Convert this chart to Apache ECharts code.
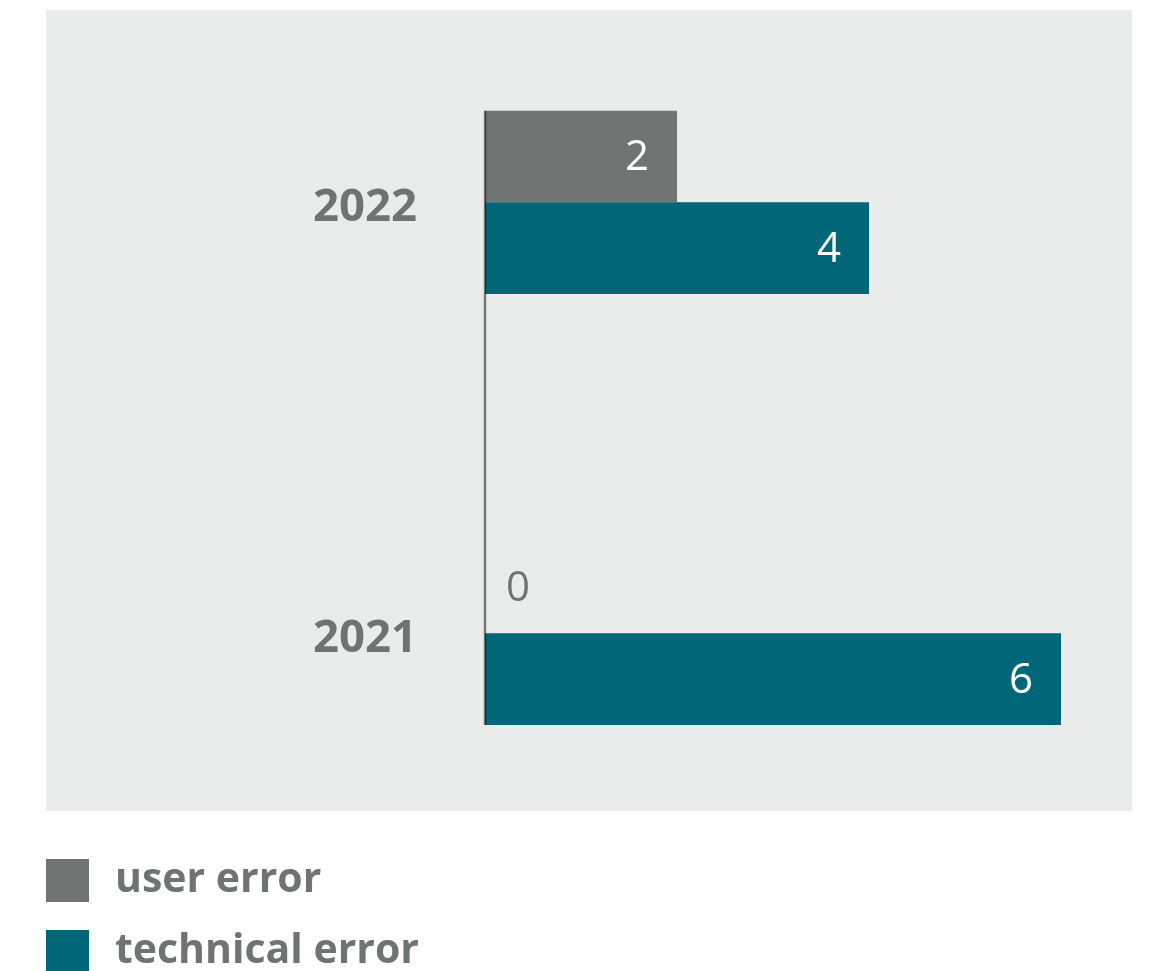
<!DOCTYPE html>
<html>
<head>
<meta charset="utf-8">
<script src="https://cdn.jsdelivr.net/npm/echarts@6/dist/echarts.min.js"></script>
<style>
html,body{margin:0;padding:0;background:#fff;}
#c{width:1153px;height:971px;}
</style>
</head>
<body>
<div id="c"></div>
<script>
var categories = ['2021', '2022'];
var seriesNames = ['user error', 'technical error'];
var userError = [0, 2];
var technicalError = [6, 4];

var GREY = '#707473';
var TEAL = '#006678';
var TEXT = '#6f7473';
var BAR_W = 91.6;
var FONT = '"Open Sans", "Noto Sans", sans-serif';

var chart = echarts.init(document.getElementById('c'), null, {renderer: 'canvas'});

function labelFor(color) {
  return {
    show: true,
    position: 'insideRight',
    distance: 28,
    offset: [0, 2],
    color: color,
    fontFamily: FONT,
    fontSize: 42,
    fontWeight: 'normal'
  };
}

var option = {
  backgroundColor: '#ffffff',
  animation: false,
  grid: {left: 485, width: 576, top: -13.2, height: 862, containLabel: false, outerBoundsMode: 'none'},
  xAxis: {
    type: 'value', min: 0, max: 6,
    show: false
  },
  yAxis: {
    type: 'category',
    data: categories,
    axisLine: {show: false},
    axisTick: {show: false},
    splitLine: {show: false},
    axisLabel: {
      margin: 68,
      formatter: '{y|{value}}',
      rich: {
        y: {
          color: TEXT,
          fontFamily: FONT,
          fontSize: 45.5,
          fontWeight: 'bold',
          padding: [12, 0, 0, 0]
        }
      }
    }
  },
  legend: {
    orient: 'vertical',
    left: 46,
    top: 859,
    height: 140,
    padding: 0,
    itemWidth: 43,
    itemHeight: 43,
    itemGap: 28,
    icon: 'rect',
    selectedMode: false,
    data: seriesNames,
    textStyle: {
      color: TEXT,
      fontFamily: FONT,
      fontSize: 41,
      fontWeight: 'bold',
      lineHeight: 43,
      padding: [0, 0, 0, 21]
    }
  },
  series: [
    {
      name: seriesNames[0],
      type: 'bar',
      barWidth: BAR_W,
      barGap: '0%',
      itemStyle: {color: GREY},
      label: labelFor('#ffffff'),
      data: userError.map(function (v) {
        if (v === 0) {
          return {value: v, label: {position: 'right', distance: 21, color: TEXT}};
        }
        return v;
      })
    },
    {
      name: seriesNames[1],
      type: 'bar',
      barWidth: BAR_W,
      barGap: '0%',
      itemStyle: {color: TEAL},
      label: labelFor('#ffffff'),
      data: technicalError
    }
  ]
};

chart.setOption(option);

// Background panel and axis line (derived from the axes' own scales)
var x0 = chart.convertToPixel({xAxisIndex: 0}, 0);
var yTopC = chart.convertToPixel({yAxisIndex: 0}, categories[categories.length - 1]);
var yBotC = chart.convertToPixel({yAxisIndex: 0}, categories[0]);
chart.setOption({
  graphic: [
    {
      type: 'rect', z: -100, silent: true,
      shape: {x: 46, y: 10, width: 1086, height: 801},
      style: {fill: '#eaebeb'}
    },
    {
      type: 'line', z: 100, silent: true,
      shape: {x1: x0, y1: yTopC - BAR_W, x2: x0, y2: yBotC + BAR_W},
      style: {stroke: 'rgba(0,0,0,0.5)', lineWidth: 2.4}
    }
  ]
});
</script>
</body>
</html>
